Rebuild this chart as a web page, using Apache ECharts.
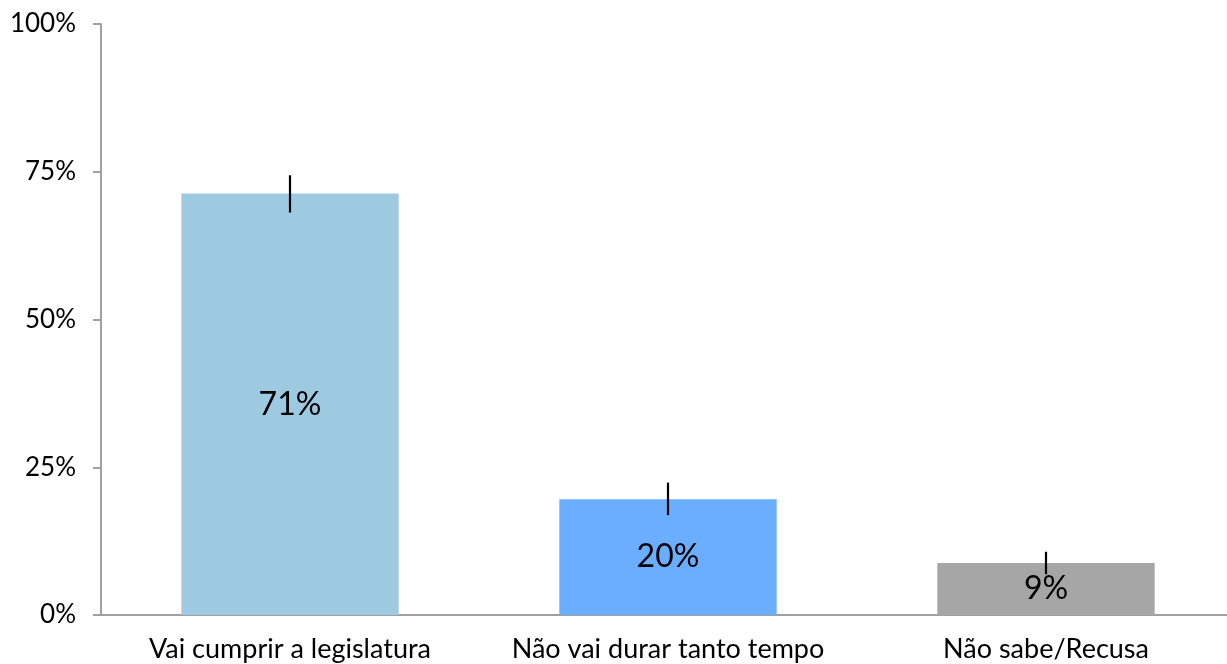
<!DOCTYPE html>
<html lang="pt">
<head>
    <meta charset="UTF-8">
    <title>Legislatura</title>
    <script src="https://cdn.jsdelivr.net/npm/echarts/dist/echarts.min.js"></script>
    <style>
        body, html {
            margin: 0;
            padding: 0;
            background: #fff;
        }
        #chart {
            width: 1227px;
            height: 664px;
        }
    </style>
</head>
<body>
<div id="chart"></div>
<script>
    // dados
    const categories = ['Vai cumprir a legislatura', 'Não vai durar tanto tempo', 'Não sabe/Recusa'];
    const values = [71.3, 19.6, 8.8];
    const errLow = [68.1, 16.9, 6.9];
    const errHigh = [74.4, 22.4, 10.7];
    const barColors = ['#9ecae1', '#6baeff', '#a6a6a6'];
    const yTicks = [0, 25, 50, 75, 100];

    const chart = echarts.init(document.getElementById('chart'));
    const option = {
        animation: false,
        textStyle: { fontFamily: 'Lato' },
        grid: { left: 101, width: 1134, top: 24, bottom: 49, outerBoundsMode: 'none', containLabel: false },
        xAxis: {
            type: 'category',
            data: categories,
            axisLine: { lineStyle: { color: '#a0a0a0', width: 2 } },
            axisTick: { show: false },
            axisLabel: { color: '#000', fontSize: 27, fontFamily: 'Lato', margin: 21, interval: 0, hideOverlap: false }
        },
        yAxis: {
            type: 'value',
            min: 0,
            max: 100,
            interval: 25,
            axisLine: { show: true, lineStyle: { color: '#a0a0a0', width: 2 } },
            axisTick: { show: true, length: 8, lineStyle: { color: '#a0a0a0', width: 2 } },
            splitLine: { show: false },
            axisLabel: {
                color: '#000', fontSize: 26, fontFamily: 'Lato', margin: 25,
                formatter: v => yTicks.includes(v) ? v + '%' : ''
            }
        },
        series: [
            {
                type: 'bar',
                barWidth: '57.5%',
                data: values.map((v, i) => ({ value: v, itemStyle: { color: barColors[i] } })),
                label: {
                    show: true,
                    position: 'inside',
                    color: '#000',
                    fontSize: 32,
                    fontFamily: 'Lato',
                    formatter: p => Math.round(p.value) + '%'
                },
                z: 2
            },
            {
                type: 'custom',
                data: categories.map((c, i) => [i, errLow[i], errHigh[i]]),
                renderItem: function (params, api) {
                    const lo = api.coord([api.value(0), api.value(1)]);
                    const hi = api.coord([api.value(0), api.value(2)]);
                    return {
                        type: 'line',
                        shape: { x1: lo[0], y1: lo[1], x2: hi[0], y2: hi[1] },
                        style: { stroke: '#000', lineWidth: 2.2 }
                    };
                },
                z: 3
            }
        ]
    };
    chart.setOption(option);
</script>
</body>
</html>
